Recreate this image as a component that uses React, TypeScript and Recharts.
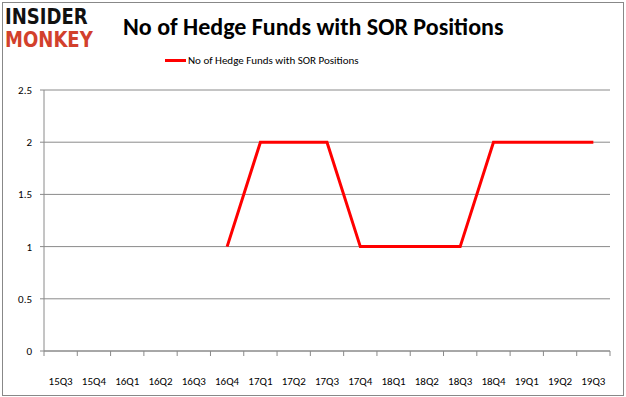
import { CartesianGrid, Line, LineChart, XAxis, YAxis } from "recharts";

const quarters = [
  "15Q3", "15Q4", "16Q1", "16Q2", "16Q3", "16Q4", "17Q1", "17Q2", "17Q3",
  "17Q4", "18Q1", "18Q2", "18Q3", "18Q4", "19Q1", "19Q2", "19Q3",
];
const hedgeFunds: (number | null)[] = [
  null, null, null, null, null, 1, 2, 2, 2, 1, 1, 1, 1, 2, 2, 2, 2,
];
const yTicks = [0, 0.5, 1, 1.5, 2, 2.5];
const seriesName = "No of Hedge Funds with SOR Positions";

// numeric x so tick marks can sit between categories like Excel
const data = quarters.map((q, i) => ({ x: i + 0.5, q, value: hedgeFunds[i] }));
const boundaryTicks = quarters.map((_, i) => i).concat(quarters.length);
const labelTicks = quarters.map((_, i) => i + 0.5);

const FONT = "Calibri, Carlito, Lato, 'Open Sans', sans-serif";

export default function App() {
  return (
    <div style={{ position: "absolute", left: 0, top: 0, width: 626, height: 397, background: "#fff" }}>
      <div style={{ position: "absolute", left: 2, top: 2, width: 620, height: 392, border: "1px solid #888" }} />
      <div style={{ position: "absolute", left: 5, top: 5, fontFamily: "'DejaVu Sans', sans-serif", fontWeight: 900, lineHeight: "23px", transform: "scaleX(0.82)", transformOrigin: "left top" }}>
        <div style={{ fontSize: 22, color: "#111" }}>INSIDER</div>
        <div style={{ fontSize: 22, color: "#d2402c" }}>MONKEY</div>
      </div>
      <div style={{ position: "absolute", left: 123, top: 12, fontFamily: FONT, fontWeight: 700, fontSize: 24, color: "#000", whiteSpace: "nowrap" }}>
        {seriesName}
      </div>
      <div style={{ position: "absolute", left: 165, top: 54, display: "flex", alignItems: "center", fontFamily: FONT, fontSize: 11, color: "#000", whiteSpace: "nowrap" }}>
        <span style={{ display: "inline-block", width: 21, height: 3, background: "#ff0000", marginRight: 2 }} />
        {seriesName}
      </div>
      <LineChart
        width={626}
        height={397}
        data={data}
        margin={{ top: 90, right: 16, left: 0, bottom: 0 }}
        style={{ position: "absolute", left: 0, top: 0 }}
      >
        <CartesianGrid vertical={false} stroke="#8a8a8a" strokeWidth={1} />
        <XAxis
          xAxisId={0}
          dataKey="x"
          type="number"
          domain={[0, quarters.length]}
          ticks={boundaryTicks}
          interval={0}
          tickFormatter={() => ""}
          tick={{ fontSize: 0 }}
          tickLine={{ stroke: "#8a8a8a" }}
          tickSize={5}
          stroke="#8a8a8a"
          height={1}
        />
        <XAxis
          xAxisId={1}
          dataKey="x"
          type="number"
          domain={[0, quarters.length]}
          ticks={labelTicks}
          interval={0}
          tickFormatter={(v) => quarters[Math.floor(Number(v))]}
          axisLine={false}
          tickLine={false}
          tickSize={0}
          tickMargin={25}
          tick={{ fontSize: 11, fill: "#000", fontFamily: FONT }}
          height={45}
        />
        <YAxis
          domain={[0, 2.5]}
          ticks={yTicks}
          interval={0}
          width={44}
          stroke="#8a8a8a"
          tickSize={4}
          tickMargin={8}
          tick={{ fontSize: 11, fill: "#000", fontFamily: FONT }}
        />
        <Line
          xAxisId={0}
          dataKey="value"
          name={seriesName}
          stroke="#ff0000"
          strokeWidth={3}
          dot={false}
          type="linear"
          isAnimationActive={false}
        />
      </LineChart>
    </div>
  );
}
